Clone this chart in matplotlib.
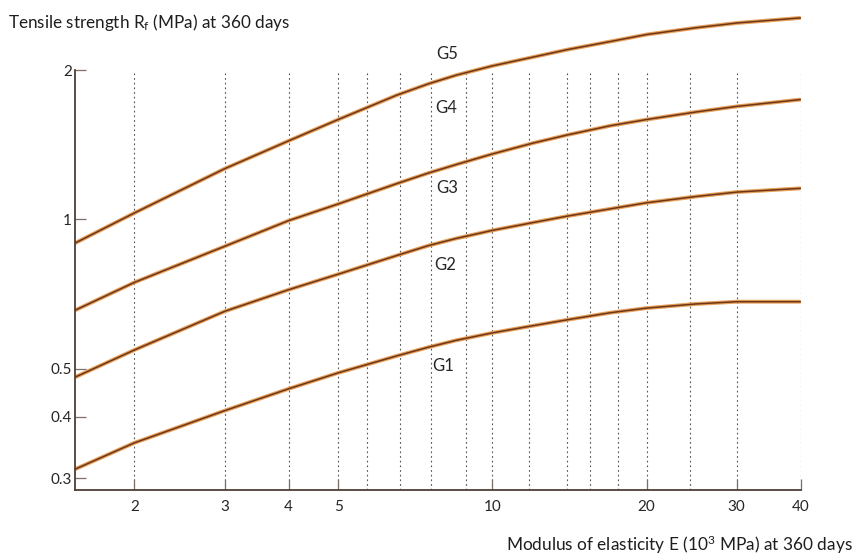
import matplotlib
matplotlib.use('Agg')
import matplotlib.pyplot as plt
from matplotlib.ticker import NullLocator

# modulus of elasticity E (10^3 MPa), where the class boundaries were read
modulus = [1.53, 2, 3, 4, 5, 6.5, 7.5, 8.5, 10, 12, 14, 17, 20, 25, 30, 40]

# tensile strength Rt (MPa) along each boundary line, top to bottom
g4_g5 = [0.895, 1.03, 1.265, 1.44, 1.59, 1.78, 1.877, 1.954, 2.04, 2.125, 2.20, 2.285,
         2.36, 2.436, 2.49, 2.55]
g3_g4 = [0.655, 0.746, 0.882, 0.994, 1.074, 1.18, 1.24, 1.29, 1.355, 1.425, 1.48, 1.545,
         1.59, 1.647, 1.69, 1.745]
g2_g3 = [0.48, 0.545, 0.652, 0.721, 0.775, 0.845, 0.885, 0.915, 0.95, 0.985, 1.015, 1.05,
         1.08, 1.112, 1.135, 1.155]
g1_g2 = [0.313, 0.354, 0.411, 0.455, 0.49, 0.53, 0.552, 0.57, 0.59, 0.61, 0.627, 0.648,
         0.662, 0.675, 0.682, 0.682]

classes = ["G5", "G4", "G3", "G2", "G1"]

x_ticks = [2, 3, 4, 5, 10, 20, 30, 40]
x_ticklabels = ["2", "3", "4", "5", "10", "20", "30", "40"]
y_ticks = [0.3, 0.4, 0.5, 1, 2]
y_ticklabels = ["0.3", "0.4", "0.5", "1", "2"]

plt.rcParams['font.family'] = ['Lato', 'DejaVu Sans']
plt.rcParams['mathtext.default'] = 'regular'

fig = plt.figure(figsize=(8.6, 5.59), dpi=100)
ax = fig.add_axes([0.087, 0.123, 0.844, 0.867])
ax.set_xscale('log')
ax.set_yscale('log')
y_low, y_high = 0.284, 2.7
ax.set_xlim(1.53, 40)
ax.set_ylim(y_low, y_high)

# printed grid of the nomogram
grid_e = [2, 3, 4, 5, 5.7, 6.6, 7.6, 8.9, 10, 11.8, 14, 15.5, 17.6, 20, 24.3, 30, 40]
ax.vlines(grid_e, y_low, 2.0, colors='#5a5a5a', linestyles=(0, (1.6, 2.6)),
          linewidth=0.8, zorder=0)

# boundary lines: orange halo with a dark brown core
for curve in [g4_g5, g3_g4, g2_g3, g1_g2]:
    ax.plot(modulus, curve, color='#e6a05a', linewidth=2.8, solid_capstyle='butt',
            solid_joinstyle='round', zorder=2)
    ax.plot(modulus, curve, color='#6e3517', linewidth=1.1, solid_joinstyle='round', zorder=3)

# class names sit between the lines
label_pos = [(8.15, 2.16), (8.12, 1.68), (8.15, 1.155), (8.1, 0.81), (8.0, 0.505)]
for name, (lx, ly) in zip(classes, label_pos):
    ax.text(lx, ly, name, ha='center', va='center', fontsize=12, color='#262626')

for side in ['top', 'right']:
    ax.spines[side].set_visible(False)
for side in ['left', 'bottom']:
    ax.spines[side].set_color('#4d3f37')
    ax.spines[side].set_linewidth(1.3)
ax.spines['left'].set_bounds(y_low, 2.0)

ax.set_xticks(x_ticks)
ax.set_xticklabels(x_ticklabels)
ax.set_yticks(y_ticks)
ax.set_yticklabels(y_ticklabels)
ax.xaxis.set_minor_locator(NullLocator())
ax.yaxis.set_minor_locator(NullLocator())
ax.tick_params(direction='in', length=8, width=0.9, color='#7d6e66',
               labelsize=11, labelcolor='#262626')
ax.tick_params(axis='x', pad=7)
ax.tick_params(axis='y', pad=2)

fig.text(0.009, 1 - 12 / 559, 'Tensile strength R$_f$ (MPa) at 360 days',
         ha='left', va='top', fontsize=12.3, color='#1e1e1e')
fig.text(853 / 860, 1 - 545 / 559, 'Modulus of elasticity E (10$^3$ MPa) at 360 days',
         ha='right', va='center', fontsize=12.4, color='#1e1e1e')

fig.savefig('out.png', dpi=100)
